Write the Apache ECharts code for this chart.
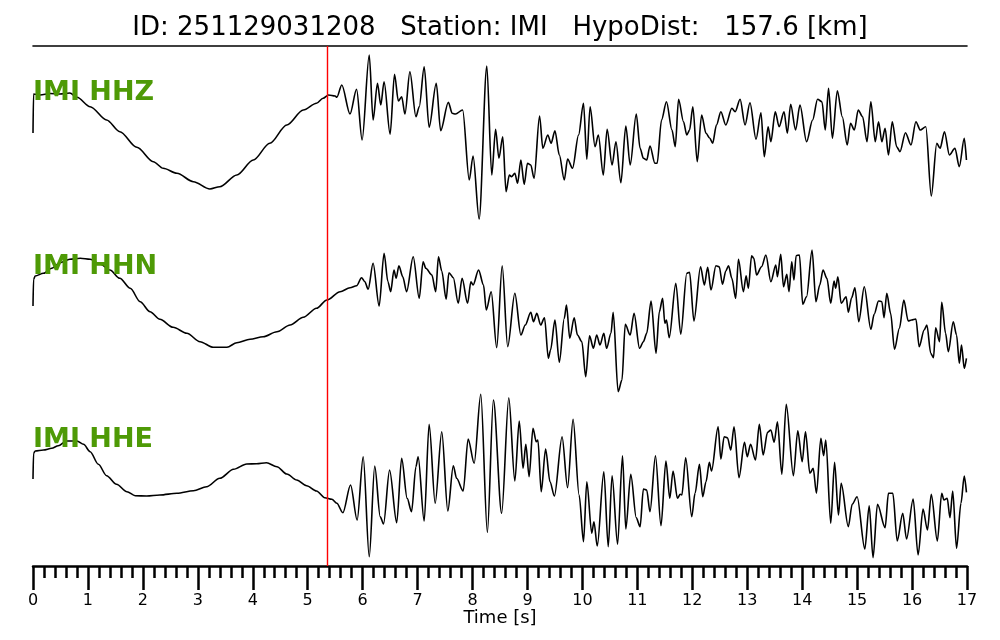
<!DOCTYPE html>
<html>
<head>
<meta charset="utf-8">
<script src="https://cdn.jsdelivr.net/npm/echarts@6/dist/echarts.min.js"></script>
<style>html,body{margin:0;padding:0;background:#fff}#c{width:1000px;height:640px}</style>
</head>
<body>
<div id="c"></div>
<script>
// ---- data (time [s], relative amplitude) ----
const titleText = 'ID: 251129031208   Station: IMI   HypoDist:   157.6 [km]';
const traceNames = ['IMI HHZ', 'IMI HHN', 'IMI HHE'];
const pickTime = 5.35;
const timeMin = 0;
const timeMax = 17;

const hhzData = [[0.00,1],[0.01,40],[0.13,39],[0.31,40.5],[0.49,40],[0.67,41],[0.80,36.7],[1.04,27.3],[1.34,14],[1.58,2.3],[1.89,-13.3],[2.19,-27.7],[2.37,-34.3],[2.62,-39.3],[2.92,-47.7],[3.22,-55],[3.40,-52.7],[3.71,-41],[4.01,-26],[4.31,-9.3],[4.62,9],[4.92,24],[5.16,30.7],[5.28,35.7],[5.38,39],[5.50,38],[5.53,36.7],[5.62,49],[5.77,20],[5.89,44.7],[5.99,-6],[6.12,79],[6.19,14],[6.27,50.7],[6.33,29],[6.39,52.3],[6.50,-0.3],[6.58,59.7],[6.65,33],[6.71,37.3],[6.77,20],[6.86,62.3],[6.97,17.3],[7.03,27.3],[7.12,67.3],[7.21,6.7],[7.34,50.7],[7.42,3.3],[7.56,31.7],[7.63,20.7],[7.69,20],[7.82,24],[7.94,-46],[8.01,-22],[8.12,-85],[8.26,68],[8.35,-41],[8.42,4.7],[8.48,-24.3],[8.55,-2.7],[8.61,-57.7],[8.67,-41],[8.71,-42.7],[8.77,-39.3],[8.82,-49.3],[8.88,-26],[8.94,-50.3],[9.00,-29.3],[9.06,-31],[9.12,-44.3],[9.22,18],[9.28,-14.3],[9.37,-1],[9.43,-9.3],[9.50,3.3],[9.58,-21],[9.67,-46],[9.73,-25],[9.82,-34.3],[9.93,-1],[10.02,30.7],[10.08,-25.3],[10.14,27.3],[10.23,-12.7],[10.29,-1],[10.38,-41],[10.45,4.7],[10.54,-31],[10.61,-7.7],[10.70,-48.7],[10.79,8],[10.87,-31],[10.98,20],[11.05,-14.3],[11.11,-24.3],[11.17,-26],[11.23,-12],[11.32,-29.3],[11.36,-29.3],[11.44,14],[11.53,32.3],[11.63,4],[11.69,-12.7],[11.75,34.7],[11.84,12.3],[11.90,-1],[11.95,4],[12.01,27.3],[12.09,-27.7],[12.17,19],[12.25,0.7],[12.32,-4.3],[12.37,-9.3],[12.44,9],[12.52,22.3],[12.61,9],[12.72,25.7],[12.78,22.3],[12.87,34.7],[12.96,9],[13.05,31.3],[13.16,-5.3],[13.25,21.3],[13.31,-22.7],[13.38,7.3],[13.43,-7.7],[13.51,22.3],[13.58,7.3],[13.67,22.3],[13.73,0.7],[13.79,29.7],[13.88,4],[13.96,29],[14.08,-7.7],[14.19,14],[14.28,34.7],[14.36,32.3],[14.42,4],[14.48,45.7],[14.55,-4.3],[14.64,43.3],[14.73,17.3],[14.82,-11],[14.88,10.7],[14.95,4],[15.02,24],[15.10,17.3],[15.18,-7.7],[15.25,32.3],[15.33,-7.7],[15.39,12.3],[15.45,-7.7],[15.51,5.7],[15.57,-21],[15.64,12.3],[15.72,-12.7],[15.78,-17.7],[15.88,1.3],[15.98,-11],[16.07,12.3],[16.15,4],[16.25,7.3],[16.35,-62],[16.45,-9.3],[16.51,-14.3],[16.59,2.3],[16.68,-21],[16.78,-14.3],[16.86,-32.7],[16.95,-4.3],[16.99,-26]];

const hhnData = [[0.00,4],[0.01,30.7],[0.04,34],[0.19,36.7],[0.34,41.7],[0.49,47.3],[0.67,50.7],[0.86,51.7],[1.04,50.7],[1.22,46],[1.40,40],[1.58,31.7],[1.77,21.7],[1.95,8.3],[2.13,-1.7],[2.31,-9.3],[2.55,-17.3],[2.80,-23.3],[3.04,-31.7],[3.28,-37.3],[3.53,-37.3],[3.71,-32.7],[3.95,-29.3],[4.19,-26.7],[4.44,-21.7],[4.68,-15],[4.92,-7.3],[5.16,1.7],[5.35,10],[5.59,18.3],[5.77,22.3],[5.89,24.3],[5.98,32.3],[6.04,28.3],[6.10,20.7],[6.19,46.7],[6.30,4],[6.39,56.7],[6.46,28.3],[6.51,18.3],[6.57,40],[6.61,31.7],[6.66,44.3],[6.73,33.3],[6.80,18.3],[6.92,53.3],[7.03,11.7],[7.10,48.3],[7.15,41.7],[7.26,35],[7.33,18.3],[7.38,53.3],[7.44,39],[7.52,10.7],[7.57,37.3],[7.65,32.3],[7.74,6.7],[7.81,31.7],[7.91,6.7],[7.97,28.3],[8.01,25],[8.11,40],[8.20,25],[8.25,0],[8.34,18.3],[8.44,-37.7],[8.54,44.3],[8.64,-36.7],[8.77,16.7],[8.88,-25],[8.96,-15],[9.06,-2.3],[9.11,-11.7],[9.17,-3.3],[9.24,-15],[9.31,-7.7],[9.38,-48.3],[9.42,-40],[9.50,-10],[9.58,-52.3],[9.67,-8.3],[9.71,5],[9.77,-28.3],[9.85,-7.7],[9.91,-25],[9.99,-31.7],[10.06,-66.7],[10.13,-25.7],[10.20,-38.3],[10.26,-25],[10.32,-35],[10.39,-23.3],[10.44,-38.3],[10.52,-23.3],[10.56,-2.3],[10.65,-81.7],[10.72,-70],[10.78,-14.3],[10.87,-25],[10.94,-3.3],[11.04,-38.3],[11.11,-31.7],[11.17,-23.3],[11.25,9],[11.34,-43.3],[11.40,-1.7],[11.46,11.7],[11.50,-13.3],[11.53,-10],[11.58,-27.7],[11.70,26.7],[11.79,-24.3],[11.90,36.7],[11.95,37.7],[12.03,-11],[12.15,43.3],[12.22,25],[12.28,42.7],[12.34,20],[12.43,44.3],[12.49,43.3],[12.55,25.7],[12.61,39],[12.66,44.3],[12.72,31.7],[12.79,11.7],[12.84,50.7],[12.93,18.3],[12.98,34.3],[13.02,21.7],[13.08,54.3],[13.12,51.7],[13.17,35],[13.26,43.3],[13.34,55],[13.43,28.3],[13.52,45],[13.55,33.3],[13.61,55.7],[13.66,23.3],[13.72,35.7],[13.76,18.3],[13.81,48.3],[13.85,30],[13.89,54.3],[13.95,55],[14.01,5.7],[14.08,13.3],[14.18,60],[14.25,8.3],[14.32,25],[14.38,40],[14.45,31.7],[14.52,6.7],[14.58,29],[14.61,21.7],[14.65,33.3],[14.71,6.7],[14.80,13.3],[14.84,-2.3],[14.90,12.3],[14.96,22.3],[15.03,-11.7],[15.13,23.3],[15.25,-19.3],[15.31,-4.3],[15.39,9],[15.45,8.3],[15.49,-7.7],[15.54,16.7],[15.61,-3.3],[15.68,-39.3],[15.77,-18.3],[15.85,10],[15.93,-11],[15.99,-10],[16.07,-9],[16.13,-36.7],[16.22,-20],[16.27,-15],[16.34,-43.3],[16.39,-47.7],[16.43,-17.7],[16.50,-31.7],[16.54,7.7],[16.61,-23.3],[16.66,-41.7],[16.75,-11.7],[16.81,-25],[16.86,-53.3],[16.90,-35],[16.95,-58.3],[16.99,-48.3]];

const hheData = [[0.00,-1],[0.01,24.7],[0.04,27],[0.19,28],[0.34,29.7],[0.46,32.3],[0.61,37],[0.80,37],[0.92,33.7],[1.04,26.3],[1.19,13.7],[1.34,2.3],[1.52,-6.3],[1.71,-13.7],[1.86,-17.7],[2.07,-18],[2.31,-17],[2.62,-15.3],[2.92,-12.7],[3.16,-8.7],[3.40,-0.3],[3.65,8.7],[3.89,14],[4.07,14.3],[4.25,15.3],[4.44,11.3],[4.62,4],[4.80,-2],[4.98,-7.7],[5.16,-13],[5.31,-19.7],[5.44,-21.3],[5.53,-25.3],[5.64,-34.7],[5.78,-7],[5.90,-42],[6.01,21.3],[6.12,-78.7],[6.22,12],[6.32,-38.7],[6.38,-46],[6.49,8],[6.62,-44.7],[6.71,19.7],[6.81,-20.3],[6.89,-33.7],[6.97,11.3],[7.01,21.3],[7.12,-43],[7.21,53.7],[7.32,-25.3],[7.44,46.3],[7.55,-33],[7.65,12.3],[7.71,-0.3],[7.83,-13],[7.92,39],[8.03,14.7],[8.15,83.7],[8.27,-54.3],[8.38,78],[8.53,-35.3],[8.66,80.3],[8.77,-3],[8.85,57],[8.92,9.7],[8.97,33.7],[9.03,1.3],[9.10,49.7],[9.16,36.3],[9.19,38],[9.25,-13.7],[9.33,29],[9.41,-3.7],[9.49,-18],[9.63,41.3],[9.73,-9.7],[9.83,58.7],[9.94,-17],[10.02,-63.7],[10.08,-3.7],[10.17,-55.3],[10.21,-43.7],[10.27,-68],[10.39,6.3],[10.47,-68.7],[10.54,2.3],[10.64,-66.3],[10.73,22.3],[10.79,-51],[10.88,3.7],[10.98,-39.7],[11.05,-48.7],[11.11,-11],[11.17,-12],[11.23,-33.7],[11.33,22.3],[11.43,-47.7],[11.52,17],[11.59,-20.3],[11.65,7],[11.73,-20.3],[11.78,-16.3],[11.81,-17],[11.88,20.3],[11.99,-38.7],[12.05,-15.3],[12.13,13.7],[12.19,-18.7],[12.25,-3.7],[12.31,15.7],[12.35,7],[12.47,51.3],[12.52,19],[12.58,41.3],[12.64,40.3],[12.70,28],[12.76,51.3],[12.85,0.3],[12.95,35.7],[13.00,21.3],[13.06,33.7],[13.15,18],[13.22,53.7],[13.29,23],[13.37,45.7],[13.43,48],[13.49,35.7],[13.55,56.3],[13.63,3.7],[13.71,73.7],[13.84,2.3],[13.92,47.3],[14.00,16.3],[14.06,46.3],[14.14,4.7],[14.20,9.7],[14.26,-15.3],[14.34,39.7],[14.39,22.3],[14.43,38],[14.52,-45.3],[14.59,15.7],[14.66,-37],[14.71,-5.3],[14.84,-48.7],[14.91,-26.3],[15.00,-18.7],[15.14,-71],[15.22,-27.7],[15.29,-79.7],[15.37,-26.3],[15.51,-49.7],[15.57,-15.3],[15.65,-15.3],[15.73,-63],[15.83,-35.3],[15.90,-61],[16.02,-21],[16.11,-77],[16.20,-31],[16.28,-52],[16.35,-16.3],[16.46,-63],[16.54,-15.3],[16.58,-22],[16.64,-20.3],[16.69,-39.7],[16.74,-13],[16.81,-70.3],[16.89,-25.3],[16.95,2],[16.99,-14.3]];

// ---- layout ----
const FONT = 'DejaVu Sans';
const plotLeft = 33, plotWidth = 934;
const traceGrids = [{top: 46, height: 176}, {top: 222, height: 176}, {top: 390, height: 176}];
const traceLabelTops = [79, 253, 426];
const ampRange = 88;
const traceData = [hhzData, hhnData, hheData];

const chart = echarts.init(document.getElementById('c'), null, {renderer: 'canvas'});

const grids = traceGrids.map(g => ({left: plotLeft, width: plotWidth, top: g.top, height: g.height}));
grids.push({left: plotLeft, width: plotWidth, top: 46, height: 520});

const xAxes = traceGrids.map((g, i) => ({type: 'value', gridIndex: i, min: timeMin, max: timeMax, show: false}));
xAxes.push({
  type: 'value', gridIndex: 3, min: timeMin, max: timeMax, interval: 1, position: 'bottom',
  axisLine: {show: true, onZero: false, lineStyle: {color: '#000', width: 2.5}},
  axisTick: {show: true, inside: false, length: 24, lineStyle: {color: '#000', width: 2.5}},
  minorTick: {show: true, splitNumber: 5, length: 12, lineStyle: {color: '#000', width: 2.5}},
  axisLabel: {show: true, color: '#000', fontSize: 16, fontFamily: FONT, margin: 27},
  splitLine: {show: false},
  name: 'Time [s]', nameLocation: 'middle', nameGap: 43, nameMoveOverlap: false,
  nameTextStyle: {color: '#000', fontSize: 18, fontFamily: FONT}
});
xAxes.push({
  type: 'value', gridIndex: 3, min: timeMin, max: timeMax, position: 'top',
  axisLine: {show: true, onZero: false, lineStyle: {color: '#000', width: 1.6}},
  axisTick: {show: false}, axisLabel: {show: false}, splitLine: {show: false}
});

const yAxes = traceGrids.map((g, i) => ({type: 'value', gridIndex: i, min: -ampRange, max: ampRange, show: false}));
yAxes.push({type: 'value', gridIndex: 3, min: 0, max: 1, show: false});

const series = traceData.map((d, i) => ({
  name: traceNames[i], type: 'line', xAxisIndex: i, yAxisIndex: i, data: d,
  showSymbol: false, symbol: 'none', smooth: 0.3, smoothMonotone: 'x',
  lineStyle: {color: '#000', width: 1.6}, z: 2, silent: true
}));
series.push({
  name: 'P pick', type: 'line', xAxisIndex: 3, yAxisIndex: 3, data: [],
  markLine: {symbol: 'none', silent: true, label: {show: false},
    lineStyle: {color: '#ff0000', width: 1.4, type: 'solid'},
    data: [{xAxis: pickTime}]},
  z: 1
});

const titles = [{
  text: titleText, left: 'center', top: 15, padding: 0,
  textStyle: {color: '#000', fontSize: 26, fontWeight: 'normal', fontFamily: FONT}
}];
traceNames.forEach((n, i) => titles.push({
  text: n, left: plotLeft, top: traceLabelTops[i], padding: 0,
  textStyle: {color: '#4e9a06', fontSize: 27, fontWeight: 'bold', fontFamily: FONT}
}));

chart.setOption({
  animation: false,
  backgroundColor: '#fff',
  title: titles,
  grid: grids,
  xAxis: xAxes,
  yAxis: yAxes,
  series: series
});
</script>
</body>
</html>
